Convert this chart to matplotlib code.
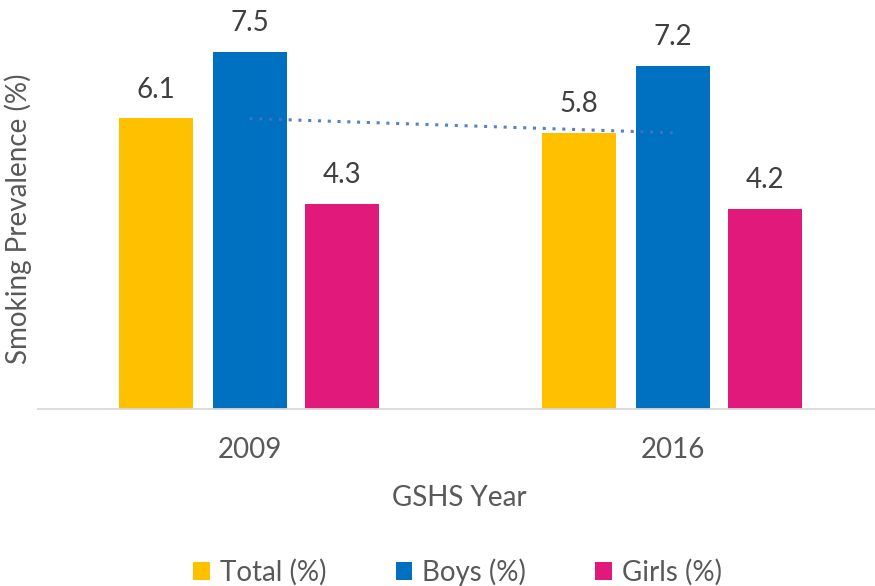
import matplotlib
matplotlib.use("Agg")
import matplotlib.pyplot as plt
import numpy as np

plt.rcParams['font.family'] = ['Lato', 'DejaVu Sans']

years = ["2009", "2016"]
series = ["Total (%)", "Boys (%)", "Girls (%)"]
total = [6.1, 5.8]
boys = [7.5, 7.2]
girls = [4.3, 4.2]
colors = ["#FFC000", "#0070C0", "#E0197A"]
text_color = "#595959"
FS = 20

fig = plt.figure(figsize=(8.75, 5.86), dpi=100)
ax = fig.add_axes([38/875, 177/586, 842/875, (381)/586])

x = np.arange(len(years))
width = 0.175
offsets = [-0.222, 0.0, 0.219]
handles = []
for vals, off, c, name in zip([total, boys, girls], offsets, colors, series):
    bars = ax.bar(x + off, vals, width, color=c, label=name, zorder=2)
    handles.append(bars)
    for xi, v in zip(x + off, vals):
        ax.text(xi, v + 0.33, f"{v:.1f}", ha="center", va="bottom",
                fontsize=FS, color="#404040")

# linear trendline of Total
coef = np.polyfit(x, total, 1)
ax.plot(x, np.polyval(coef, x), linestyle=(0, (1, 2.2)), color="#4472C4",
        linewidth=2.2, zorder=3, alpha=0.9)

ax.set_xlim(-0.5, 1.49)
ax.set_ylim(0, 8)
ax.set_xticks(x)
ax.set_xticklabels(years, fontsize=FS, color=text_color)
ax.tick_params(axis="x", length=0, pad=20)
ax.set_yticks([])
for s in ["top", "right", "left"]:
    ax.spines[s].set_visible(False)
ax.spines["bottom"].set_color("#D9D9D9")
ax.spines["bottom"].set_linewidth(1.3)

ax.set_xlabel("GSHS Year", fontsize=FS, color=text_color, labelpad=16)
ax.set_ylabel("Smoking Prevalence (%)", fontsize=FS, color=text_color, labelpad=4)

leg = fig.legend(handles=handles, labels=series, loc="center",
                 bbox_to_anchor=(0.523, 1 - 572/586), ncol=3, frameon=False,
                 fontsize=FS, handlelength=0.6, handleheight=0.6,
                 handletextpad=0.35, columnspacing=2.5, labelcolor=text_color)

fig.savefig("out.png", dpi=100)
